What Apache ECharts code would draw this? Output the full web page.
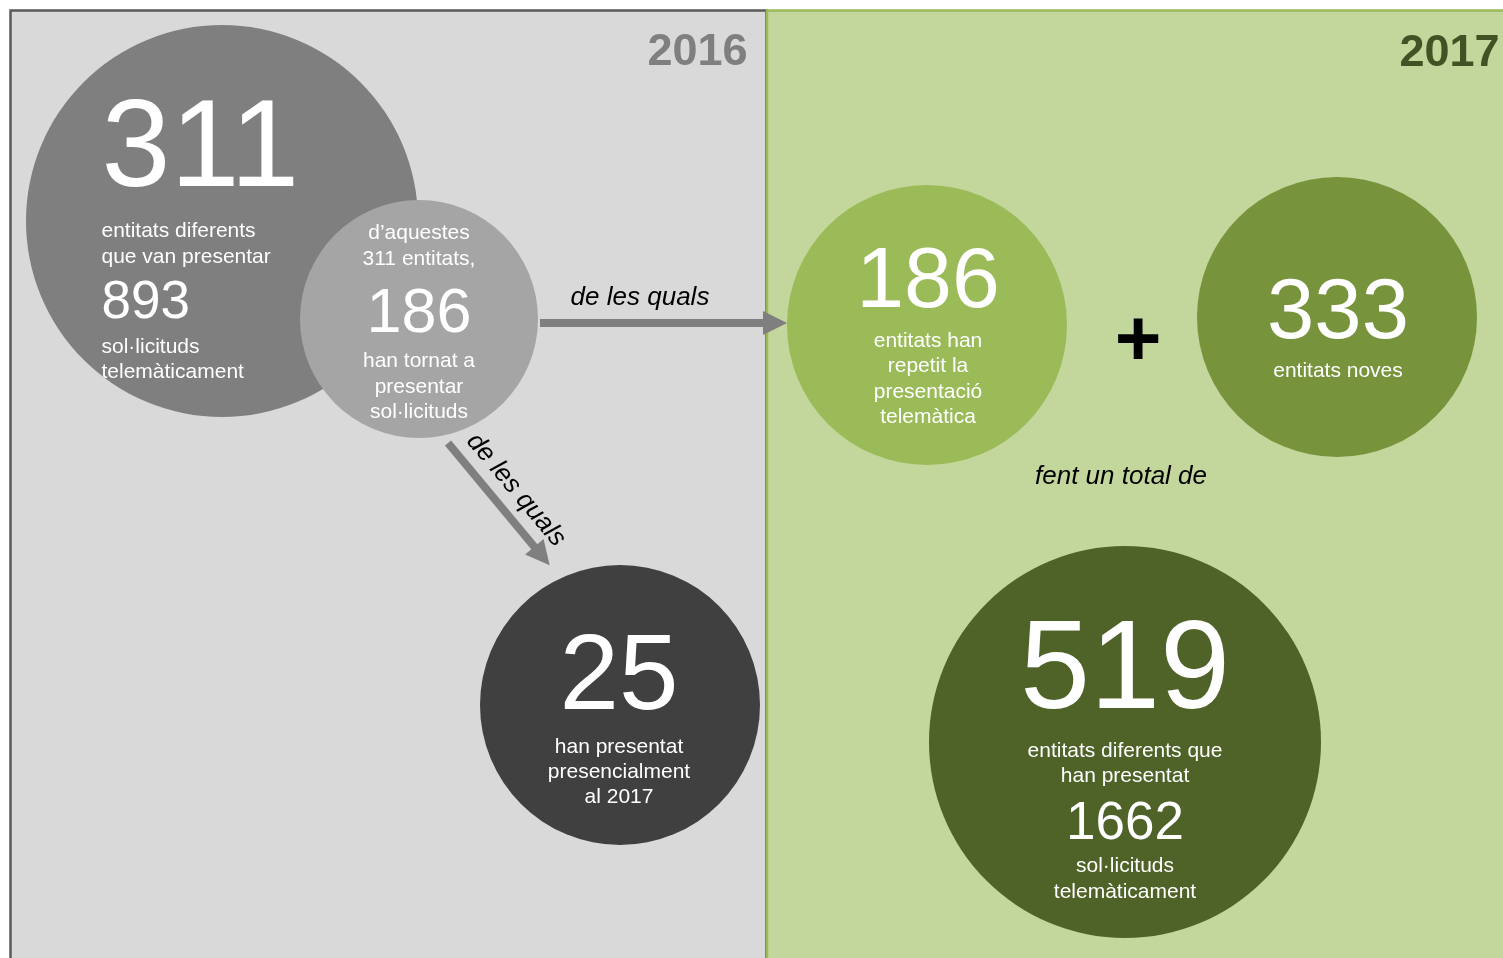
<!DOCTYPE html>
<html>
<head>
<meta charset="utf-8">
<title>Entitats 2016 - 2017</title>
<script src="https://cdn.jsdelivr.net/npm/echarts@6/dist/echarts.min.js"></script>
<style>
  html, body { margin: 0; padding: 0; background: #fff; }
  #chart { width: 1503px; height: 958px; }
</style>
</head>
<body>
<div id="chart"></div>
<script>
// ---- data ----
const years = ['2016', '2017']
const bubbleValues = [311, 186, 25, 186, 333, 519]
const requestValues = [893, null, null, null, null, 1662]
// '#v' = the bubble value, '#r' = the request count
const bubbleCaptions = [
  ['#v', 'entitats diferents', 'que van presentar', '#r', 'sol·licituds', 'telemàticament'],
  ['d’aquestes', bubbleValues[0] + ' entitats,', '#v', 'han tornat a', 'presentar', 'sol·licituds'],
  ['#v', 'han presentat', 'presencialment', 'al 2017'],
  ['#v', 'entitats han', 'repetit la', 'presentació', 'telemàtica'],
  ['#v', 'entitats noves'],
  ['#v', 'entitats diferents que', 'han presentat', '#r', 'sol·licituds', 'telemàticament']
]
const connectorTexts = ['de les quals', 'de les quals', 'fent un total de']
const plusSign = '+'

// ---- layout (pixel space of the hidden grid) ----
const W = 1503, H = 958
const bubbleCenters = [[222, 221], [419, 319], [620, 705], [927, 325], [1337, 317], [1125, 742]]
const bubbleRadius = [196, 119, 140, 140, 140, 196]
const bubbleColors = ['#7f7f7f', '#a5a5a5', '#404040', '#9bbb59', '#77933c', '#4f6228']
const captionX = [101, 419, 619, 928, 1338, 1125]
const captionAlign = ['left', 'center', 'center', 'center', 'center', 'center']
const captionY = [
  [141, 229, 255, 299, 345, 370],
  [231, 257, 309, 359, 385, 410],
  [670, 745, 770, 795],
  [276, 339, 364, 390, 415],
  [307, 369],
  [662, 749, 774, 820, 864, 890]
]
const valueFontSize = [124, 63, 107, 86, 85, 126]
const requestFontSize = 53
const bodyFontSize = 21
const arrowLinks = [
  [[540, 323], [775, 323]],
  [[448, 443], [542, 556]]
]
const connectorPos = [[640, 295, 0], [516, 490, -50], [1121, 474, 0]]
const plusPos = [1138, 336]
const yearPos = [[748, 49], [1500, 50]]
const yearColors = ['#7f7f7f', '#435224']

const FONT = '"Liberation Sans", Arial, sans-serif'
// labels sit a little high for their font size; push them down
const BASELINE_FIX = 0.09

// one text item = invisible point with its label
const makeText = (x, y, text, style, align) => ({
  value: [x, y + (style.rotate ? 0 : style.fontSize * BASELINE_FIX)],
  label: Object.assign({
    show: true,
    formatter: text,
    fontFamily: FONT,
    opacity: 1,
    position: align === 'left' ? 'right' : align === 'right' ? 'left' : 'inside',
    distance: 0
  }, style)
})

const textData = []
bubbleCaptions.forEach((lines, i) => {
  lines.forEach((line, j) => {
    let text = line
    let size = bodyFontSize
    if (line === '#v') { text = String(bubbleValues[i]); size = valueFontSize[i] }
    else if (line === '#r') { text = String(requestValues[i]); size = requestFontSize }
    textData.push(makeText(captionX[i], captionY[i][j], text, { fontSize: size, color: '#ffffff' }, captionAlign[i]))
  })
})
connectorTexts.forEach((t, i) => {
  const [x, y, rot] = connectorPos[i]
  textData.push(makeText(x, y, t, { fontSize: 26, fontStyle: 'italic', color: '#000000', rotate: rot }, 'center'))
})
textData.push(makeText(plusPos[0], plusPos[1], plusSign, { fontSize: 80, fontWeight: 'bold', color: '#000000' }, 'center'))
years.forEach((y, i) => {
  textData.push(makeText(yearPos[i][0], yearPos[i][1], y, { fontSize: 45, fontWeight: 'bold', color: yearColors[i] }, 'right'))
})

const chart = echarts.init(document.getElementById('chart'))
chart.setOption({
  animation: false,
  grid: { left: 0, right: 0, top: 0, bottom: 0 },
  xAxis: { type: 'value', min: 0, max: W, show: false },
  yAxis: { type: 'value', min: 0, max: H, inverse: true, show: false },
  graphic: [
    { type: 'rect', silent: true, z: -10, shape: { x: 10.5, y: 10.5, width: 756, height: 980 },
      style: { fill: '#d9d9d9', stroke: '#595959', lineWidth: 2.5 } },
    { type: 'rect', silent: true, z: -10, shape: { x: 767, y: 10.5, width: 760, height: 980 },
      style: { fill: '#c3d69b', stroke: '#9bbb59', lineWidth: 2.5 } }
  ],
  series: [
    {
      name: 'bubbles',
      type: 'scatter',
      z: 2,
      clip: false,
      emphasis: { disabled: true },
      data: bubbleValues.map((v, i) => ({
        value: [bubbleCenters[i][0], bubbleCenters[i][1], v],
        symbolSize: bubbleRadius[i] * 2,
        itemStyle: { color: bubbleColors[i], opacity: 1 }
      }))
    },
    {
      name: 'arrows',
      type: 'lines',
      coordinateSystem: 'cartesian2d',
      z: 3,
      silent: true,
      symbol: ['none', 'triangle'],
      symbolSize: [0, 24],
      lineStyle: { color: '#7f7f7f', width: 8, opacity: 1, cap: 'butt' },
      data: arrowLinks.map(c => ({ coords: c }))
    },
    {
      name: 'captions',
      type: 'scatter',
      z: 5,
      clip: false,
      silent: true,
      symbolSize: 1,
      itemStyle: { color: 'rgba(0,0,0,0)', opacity: 1 },
      emphasis: { disabled: true },
      data: textData
    }
  ]
})
</script>
</body>
</html>
